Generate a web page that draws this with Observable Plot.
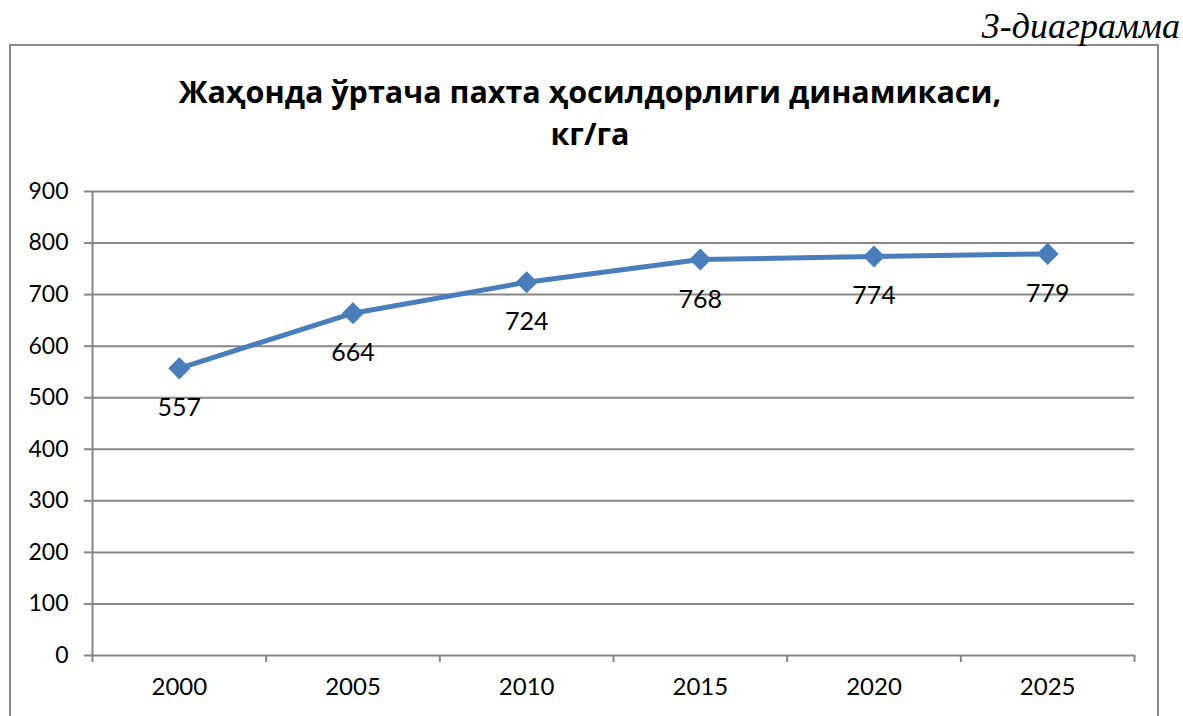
<!DOCTYPE html>
<html>
<head>
<meta charset="utf-8">
<script src="https://cdn.jsdelivr.net/npm/d3@7"></script>
<script src="https://cdn.jsdelivr.net/npm/@observablehq/plot@0.6"></script>
<style>
  html, body { margin: 0; padding: 0; background: #fff; overflow: hidden; }
  body { width: 1183px; height: 716px; position: relative; }
  #frame { position: absolute; left: 9px; top: 44px; width: 1150px; height: 700px; border: 2px solid #8a8a8a; box-sizing: border-box; }
  #label { position: absolute; right: 3px; top: 5px; font-family: "Liberation Serif", serif; font-style: italic; font-size: 36px; color: #000; }
  #title { position: absolute; left: 90px; width: 1000px; top: 70px; text-align: center; font-family: "Open Sans", sans-serif; font-weight: bold; font-size: 30.5px; line-height: 42px; color: #000; }
  #chart { position: absolute; left: 0; top: 0; }
</style>
</head>
<body>
<div id="frame"></div>
<div id="label">3-диаграмма</div>
<div id="title">Жаҳонда ўртача пахта ҳосилдорлиги динамикаси,<br>кг/га</div>
<div id="chart"></div>
<script>
const years = [2000, 2005, 2010, 2015, 2020, 2025];
const values = [557, 664, 724, 768, 774, 779];
const yTicks = [0, 100, 200, 300, 400, 500, 600, 700, 800, 900];

const data = years.map((year, i) => ({year, value: values[i]}));
const boundaries = [years[0] - 2.5, ...years.map(y => y + 2.5)];
const font = "Lato, 'Open Sans', sans-serif";
const grid = "#878787";
const blue = "#4a7ebb";

const chart = Plot.plot({
  width: 1183,
  height: 716,
  marginTop: 191,
  marginBottom: 61,
  marginLeft: 92,
  marginRight: 49,
  style: {background: "transparent", fontFamily: font, fontSize: "20px", color: "#000"},
  x: {type: "linear", domain: [boundaries[0], boundaries[boundaries.length - 1]]},
  y: {domain: [0, 900]},
  marks: [
    Plot.ruleY(yTicks, {stroke: grid, strokeWidth: 2}),
    Plot.ruleX([boundaries[0]], {y1: 0, y2: 900, stroke: grid, strokeWidth: 2}),
    Plot.axisY({ticks: yTicks, tickSize: 8, tickPadding: 16, stroke: grid, strokeWidth: 2, strokeOpacity: 1, label: null, fontSize: 23}),
    Plot.axisX({ticks: boundaries, tickSize: 7, tickFormat: () => "", stroke: grid, strokeWidth: 2, strokeOpacity: 1, label: null}),
    Plot.axisX({ticks: years, tickSize: 0, tickPadding: 22, tickFormat: d => String(d), label: null, fontSize: 24}),
    Plot.line(data, {x: "year", y: "value", stroke: blue, strokeWidth: 5}),
    Plot.dot(data, {x: "year", y: "value", symbol: "diamond2", r: 9, fill: blue, stroke: blue}),
    Plot.text(data, {x: "year", y: "value", text: d => String(d.value), dy: 40, fontSize: 25, fill: "#000"})
  ]
});
document.getElementById("chart").appendChild(chart);
</script>
</body>
</html>
